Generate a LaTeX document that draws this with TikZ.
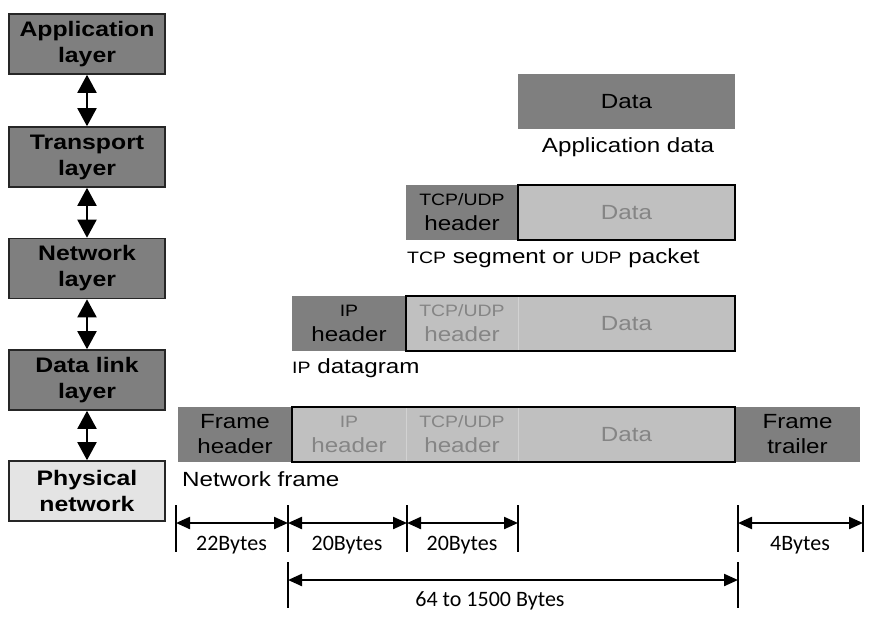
\documentclass[tikz,border=0pt]{standalone}
\usepackage{fontspec}
\setmainfont[FakeStretch=1.18]{Liberation Sans}
\newfontfamily\dimfont{Carlito}
\usetikzlibrary{arrows.meta}
\definecolor{darkbox}{HTML}{7F7F7F}
\definecolor{lightbox}{HTML}{C0C0C0}
\definecolor{physbox}{HTML}{E4E4E4}
\definecolor{fadedtext}{HTML}{858585}
\definecolor{divline}{HTML}{D2D2D2}
\begin{document}
\begin{tikzpicture}[x=1pt,y=-1pt,
  layer/.style={draw=black!85, line width=1.6pt, fill=darkbox, minimum width=156pt, minimum height=60pt, inner sep=0pt, align=center, font=\bfseries\fontsize{21}{26}\selectfont},
  physlayer/.style={layer, fill=physbox},
  layerarrow/.style={line width=2pt, {Triangle[width=19pt,length=18pt]}-{Triangle[width=19pt,length=18pt]}},
  darkcell/.style={fill=darkbox, minimum height=55pt, inner sep=0pt, align=center, font=\fontsize{20.5}{25}\selectfont},
  lightcell/.style={darkcell, fill=lightbox, text=fadedtext},
  outline/.style={draw=black, line width=1.6pt},
  divider/.style={draw=divline, line width=1pt},
  caption/.style={inner sep=0pt, font=\fontsize{20.5}{25}\selectfont},
  tickline/.style={line width=2.2pt},
  dimarrow/.style={line width=2.2pt, {Triangle[width=12pt,length=14pt]}-{Triangle[width=12pt,length=14pt]}},
  dimlabel/.style={inner sep=0pt, font=\dimfont\fontsize{22}{26}\selectfont}
]
\useasboundingbox[fill=white] (0,0) rectangle (877,623);

% layer stack
\node[layer] (app) at (87,44) {Application\\layer};
\node[layer] (trans) at (87,157) {Transport\\layer};
\node[layer] (net) at (87,268.5) {Network\\layer};
\node[layer] (link) at (87,380) {Data link\\layer};
\node[physlayer] (phys) at (87,491) {Physical\\network};
\draw[layerarrow] (app.south) -- (trans.north);
\draw[layerarrow] (trans.south) -- (net.north);
\draw[layerarrow] (net.south) -- (link.north);
\draw[layerarrow] (link.south) -- (phys.north);

% row 1
\node[darkcell, minimum width=217pt] (data1) at (626.5,101.5) {Data};
\node[caption] (cap1) at (628,147) {Application data};

% row 2
\node[darkcell, minimum width=112pt] (tcp2) at (462,212.5) {{\fontsize{16.5}{18}\selectfont TCP/UDP}\\header};
\node[lightcell, minimum width=217pt] (data2) at (626.5,212.5) {Data};
\draw[outline] (data2.north west) rectangle (data2.south east);
\node[caption, anchor=west] (cap2) at (407,258) {{\fontsize{16.5}{18}\selectfont TCP} segment or {\fontsize{16.5}{18}\selectfont UDP} packet};

% row 3
\node[darkcell, minimum width=114pt] (ip3) at (349,323.5) {{\fontsize{16.5}{18}\selectfont IP}\\header};
\node[lightcell, minimum width=112pt] (tcp3) at (462,323.5) {{\fontsize{16.5}{18}\selectfont TCP/UDP}\\header};
\node[lightcell, minimum width=217pt] (data3) at (626.5,323.5) {Data};
\draw[divider] (tcp3.north east) -- (tcp3.south east);
\draw[outline] (tcp3.north west) rectangle (data3.south east);
\node[caption, anchor=west] (cap3) at (292,368) {{\fontsize{16.5}{18}\selectfont IP} datagram};

% row 4
\node[darkcell, minimum width=114pt] (fh) at (235,434.5) {Frame\\header};
\node[lightcell, minimum width=114pt] (ip4) at (349,434.5) {{\fontsize{16.5}{18}\selectfont IP}\\header};
\node[lightcell, minimum width=112pt] (tcp4) at (462,434.5) {{\fontsize{16.5}{18}\selectfont TCP/UDP}\\header};
\node[lightcell, minimum width=217pt] (data4) at (626.5,434.5) {Data};
\node[darkcell, minimum width=125pt] (ft) at (797.5,434.5) {Frame\\trailer};
\draw[divider] (ip4.north east) -- (ip4.south east);
\draw[divider] (tcp4.north east) -- (tcp4.south east);
\draw[outline] (ip4.north west) rectangle (data4.south east);
\node[caption, anchor=west] (cap4) at (182,479) {Network frame};

% dimension lines
\coordinate (k1) at (176,523);
\coordinate (k2) at (288,523);
\coordinate (k3) at (407,523);
\coordinate (k4) at (518,523);
\coordinate (k5) at (738,523);
\coordinate (k6) at (863,523);
\coordinate (m1) at (288,580);
\coordinate (m2) at (738,580);
\foreach \k in {k1,k2,k3,k4,k5,k6}
  \draw[tickline] ([yshift=18pt]\k) -- ([yshift=-29pt]\k);
\foreach \k in {m1,m2}
  \draw[tickline] ([yshift=18pt]\k) -- ([yshift=-28pt]\k);
\draw[dimarrow] (k1) -- (k2);
\draw[dimarrow] (k2) -- (k3);
\draw[dimarrow] (k3) -- (k4);
\draw[dimarrow] (k5) -- (k6);
\draw[dimarrow] (m1) -- (m2);
\node[dimlabel] (l1) at (231.5,545) {22Bytes};
\node[dimlabel] (l2) at (347,545) {20Bytes};
\node[dimlabel] (l3) at (462,545) {20Bytes};
\node[dimlabel] (l4) at (800,545) {4Bytes};
\node[dimlabel] (l5) at (490,601) {64 to 1500 Bytes};
\end{tikzpicture}
\end{document}
